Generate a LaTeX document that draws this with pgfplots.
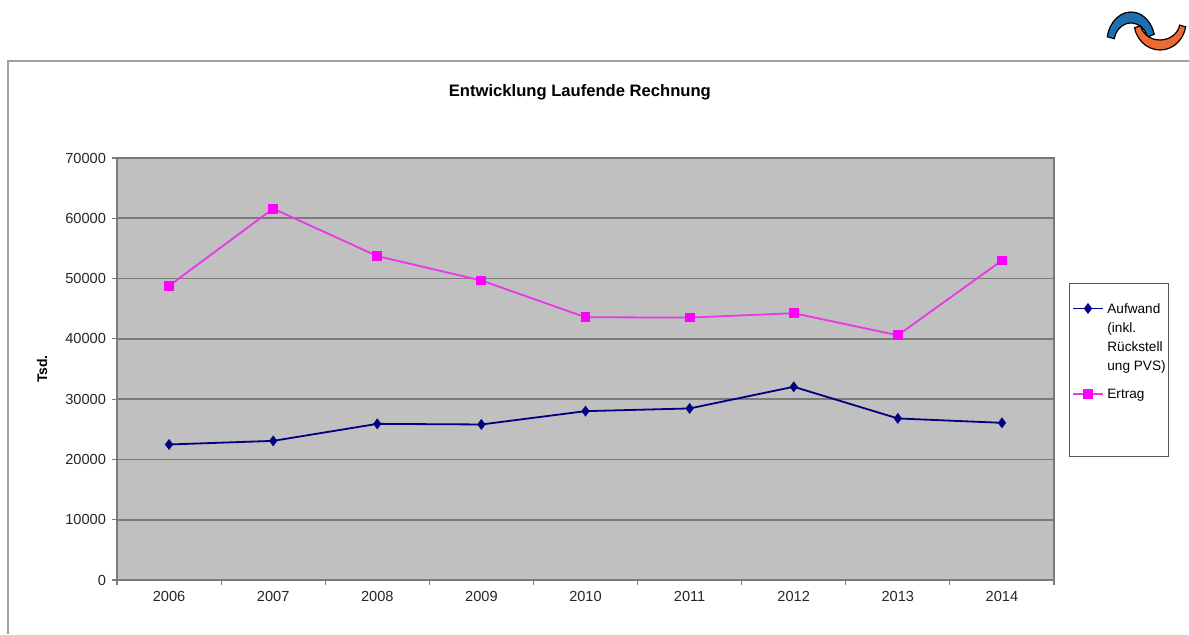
\documentclass[border=0pt]{standalone}
\usepackage{fontspec}
\setmainfont{Liberation Sans}
\usepackage{pgfplots}
\pgfplotsset{compat=1.18}
\definecolor{plotbg}{HTML}{C0C0C0}
\definecolor{gridc}{HTML}{7A7A7A}
\definecolor{frame}{HTML}{A0A0A0}
\definecolor{navyc}{HTML}{000080}
\definecolor{magc}{HTML}{FF00FF}
\definecolor{magline}{HTML}{E838E8}
\definecolor{logoblue}{HTML}{1F6FAF}
\definecolor{logoorange}{HTML}{EE6A35}
\begin{document}
\begin{tikzpicture}
\path[use as bounding box, fill=white] (0,0) rectangle (594.5pt,317pt);
% outer frame
\draw[frame, line width=1pt] (4pt,0) -- (4pt,286.5pt) -- (594.5pt,286.5pt);
% logo
\fill[logoblue, draw=black, line width=0.6pt]
  ([shift={(170:12pt and 15pt)}]565.5pt,296pt) arc[start angle=170,end angle=15,x radius=12pt,y radius=15pt]
  -- ([shift={(15:8.5pt and 9.5pt)}]565.5pt,296pt) arc[start angle=15,end angle=170,x radius=8.5pt,y radius=9.5pt] -- cycle;
\fill[logoorange, draw=black, line width=0.6pt]
  ([shift={(-168:13pt and 14pt)}]580pt,306pt) arc[start angle=-168,end angle=-10,x radius=13pt,y radius=14pt]
  -- ([shift={(-10:10pt and 9pt)}]580pt,306pt) arc[start angle=-10,end angle=-168,x radius=10pt,y radius=9pt] -- cycle;
% legend box
\draw[gray!70!black, line width=0.5pt, fill=white] (534.5pt,89pt) rectangle (584pt,175.5pt);
\begin{axis}[
  at={(58.5pt,27pt)}, anchor=south west,
  scale only axis, width=468.5pt, height=211pt,
  xmin=-0.5, xmax=8.5, ymin=0, ymax=70000,
  xtick={0,...,8},
  xticklabels={2006,2007,2008,2009,2010,2011,2012,2013,2014},
  minor xtick={-0.5,0.5,...,8.5},
  major x tick style={draw=none},
  minor tick length=2.5pt,
  ytick={0,10000,...,70000},
  major tick length=2.5pt,
  tick align=outside,
  xtick pos=bottom, ytick pos=left,
  tick style={gridc, line width=0.6pt},
  scaled y ticks=false,
  yticklabel={\pgfmathprintnumber[fixed,1000 sep={}]{\tick}},
  /pgf/number format/assume math mode=true,
  ymajorgrids,
  grid style={gridc, line width=0.8pt},
  axis background/.style={fill=plotbg},
  axis line style={gridc, line width=0.8pt},
  ticklabel style={font=\fontsize{7.3}{8}\selectfont, text=black!85},
  xticklabel style={yshift=0.5pt},
  yticklabel style={xshift=0.5pt},
  title={Entwicklung Laufende Rechnung},
  title style={at={(axis description cs:0.494,1.128)}, anchor=center, yshift=0pt, font=\bfseries\fontsize{8.3}{10}\selectfont},
  ylabel={Tsd.},
  ylabel style={at={(axis description cs:-0.08,0.5)}, anchor=center, rotate=0, font=\bfseries\fontsize{7}{8}\selectfont},
  legend style={at={(axis description cs:1.013,0.683)}, anchor=north west, draw=none, fill=none,
    font=\fontsize{6.8}{9.5}\selectfont, cells={anchor=base west}, row sep=32.5pt, column sep=0pt},
  legend image code/.code={\draw[mark repeat=2,mark phase=2,yshift=2.5pt,#1] plot coordinates {(0cm,0cm)(0.255cm,0cm)(0.51cm,0cm)};},
  clip=false,
]
\addplot[navyc, line width=0.9pt, mark=diamond*, mark size=2pt, mark options={fill=navyc, draw=navyc}]
 coordinates {(0,22480) (1,23080) (2,25900) (3,25800) (4,28010) (5,28460) (6,32050) (7,26800) (8,26070)};
\addlegendentry{\begin{tabular}[t]{@{}l@{}}Aufwand\\(inkl.\\Rückstell\\ung PVS)\end{tabular}}
\addplot[magline, line width=0.9pt, mark=square*, mark size=2pt, mark options={fill=magc, draw=magc}]
 coordinates {(0,48800) (1,61600) (2,53730) (3,49680) (4,43590) (5,43530) (6,44260) (7,40600) (8,53000)};
\addlegendentry{Ertrag}
\end{axis}
\end{tikzpicture}
\end{document}
